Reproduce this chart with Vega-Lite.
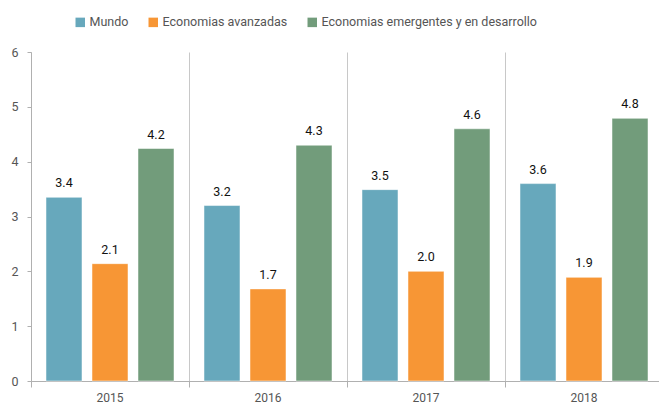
{
  "$schema": "https://vega.github.io/schema/vega-lite/v6.json",
  "width": 632,
  "height": 329,
  "autosize": {"type": "none"},
  "padding": {"left": 31, "top": 52, "right": 0, "bottom": 24},
  "background": "white",
  "config": {
    "view": {"stroke": null},
    "font": "Roboto",
    "axis": {"labelFont": "Roboto", "labelColor": "#555555", "domainColor": "#b0b0b0", "tickColor": "#b0b0b0"}
  },
  "data": {
    "values": [
      {"anio": "2015", "serie": "Mundo", "valor": 3.35, "etiqueta": "3.4"},
      {"anio": "2015", "serie": "Economias avanzadas", "valor": 2.14, "etiqueta": "2.1"},
      {"anio": "2015", "serie": "Economias emergentes y en desarrollo", "valor": 4.24, "etiqueta": "4.2"},
      {"anio": "2016", "serie": "Mundo", "valor": 3.2, "etiqueta": "3.2"},
      {"anio": "2016", "serie": "Economias avanzadas", "valor": 1.68, "etiqueta": "1.7"},
      {"anio": "2016", "serie": "Economias emergentes y en desarrollo", "valor": 4.3, "etiqueta": "4.3"},
      {"anio": "2017", "serie": "Mundo", "valor": 3.49, "etiqueta": "3.5"},
      {"anio": "2017", "serie": "Economias avanzadas", "valor": 2.0, "etiqueta": "2.0"},
      {"anio": "2017", "serie": "Economias emergentes y en desarrollo", "valor": 4.6, "etiqueta": "4.6"},
      {"anio": "2018", "serie": "Mundo", "valor": 3.6, "etiqueta": "3.6"},
      {"anio": "2018", "serie": "Economias avanzadas", "valor": 1.89, "etiqueta": "1.9"},
      {"anio": "2018", "serie": "Economias emergentes y en desarrollo", "valor": 4.79, "etiqueta": "4.8"}
    ]
  },
  "encoding": {
    "x": {
      "field": "anio", "type": "nominal", "title": null,
      "scale": {"paddingInner": 0, "paddingOuter": 0},
      "axis": {"labelAngle": 0, "bandPosition": 0, "grid": true, "gridColor": "#c8c8c8", "gridWidth": 1, "tickSize": 6, "labelFontSize": 12, "labelPadding": 5, "labelAlign": "center", "labelBound": false}
    },
    "xOffset": {
      "field": "serie", "type": "nominal",
      "sort": ["Mundo", "Economias avanzadas", "Economias emergentes y en desarrollo"],
      "scale": {"paddingInner": 0.2174, "paddingOuter": 0.326}
    },
    "y": {
      "field": "valor", "type": "quantitative", "title": null,
      "scale": {"domain": [0, 6], "nice": false},
      "axis": {"values": [0, 1, 2, 3, 4, 5, 6], "grid": false, "tickSize": 4, "labelPadding": 9, "labelFontSize": 12.5, "format": "d"}
    }
  },
  "layer": [
    {
      "mark": {"type": "bar", "stroke": "white", "strokeWidth": 0.5},
      "encoding": {
        "color": {
          "field": "serie", "type": "nominal",
          "sort": ["Mundo", "Economias avanzadas", "Economias emergentes y en desarrollo"],
          "scale": {"domain": ["Mundo", "Economias avanzadas", "Economias emergentes y en desarrollo"], "range": ["#67a8bc", "#f79635", "#729c7b"]},
          "legend": {"title": null, "orient": "none", "direction": "horizontal", "legendX": 43, "legendY": -36, "symbolType": "square", "symbolSize": 90, "symbolStrokeWidth": 0, "labelFontSize": 12.5, "labelColor": "#555555", "labelFont": "Roboto", "labelLimit": 400, "columnPadding": 18, "labelOffset": 3}
        }
      }
    },
    {
      "mark": {"type": "text", "baseline": "bottom", "dy": -7, "fontSize": 12.5, "color": "#111111", "font": "Roboto"},
      "encoding": {"text": {"field": "etiqueta"}}
    }
  ]
}
